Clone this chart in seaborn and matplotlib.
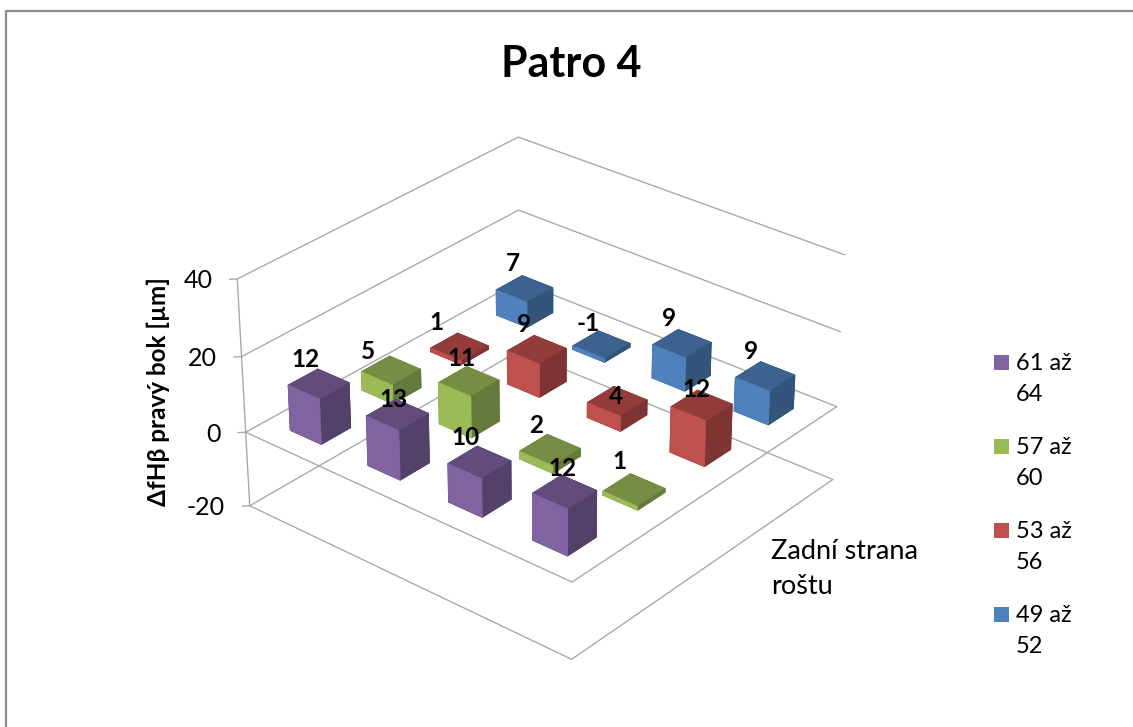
import numpy as np
import matplotlib
matplotlib.use("Agg")
import matplotlib.pyplot as plt
from matplotlib.colors import to_rgb
from matplotlib.lines import Line2D
from matplotlib.patches import Rectangle
from mpl_toolkits.mplot3d import proj3d
import seaborn as sns

# rows run from the front-left edge to the back of the grid
series = ['61 až\n64', '57 až\n60', '53 až\n56', '49 až\n52']
vals_61 = [12, 13, 10, 12]
vals_57 = [5, 11, 2, 1]
vals_53 = [1, 9, 4, 12]
vals_49 = [7, -1, 9, 9]
values = [vals_61, vals_57, vals_53, vals_49]
z_ticks = [-20, 0, 20, 40]
title = 'Patro 4'
z_label = 'ΔfHβ pravý bok [µm]'
row_label = 'Zadní strana\nroštu'

# label offsets from the bar top, in pixels
nudge_61 = [(-13, 24), (-4, 15), (-14, 25), (-2, 23)]
nudge_57 = [(-23, 19), (-7, 23), (-14, 24), (-15, 28)]
nudge_53 = [(-23, 24), (-13, 25), (-1, 5), (-5, 16)]
nudge_49 = [(-12, 25), (-13, 25), (-13, 25), (-14, 25)]
nudges = [nudge_61, nudge_57, nudge_53, nudge_49]

palette = sns.color_palette(['#8064A2', '#9BBB59', '#C0504D', '#4F81BD'])
grid_color = '#A6A6A6'
bar_w = 0.405
W, H = 1133, 727

sns.set_theme(style='white')
plt.rcParams['font.family'] = ['Lato', 'DejaVu Sans']

fig = plt.figure(figsize=(W / 100, H / 100), dpi=100, facecolor='white')
ax = fig.add_subplot(projection='3d', computed_zorder=False)
ax.set_xlim(0, 4)
ax.set_ylim(0, 4)
ax.set_zlim(-20, 40)
ax.view_init(29.68, -50.0)
ax.set_proj_type('persp', focal_length=0.9139)
ax.set_box_aspect((1.0038, 1, 0.6161))
ax.set_position([218.63 / W, 20.35 / H, 632.23 / W, 632.23 / H])
ax.set_axis_off()
M = ax.get_proj()


def grid_line(xs, ys, zs):
    ax.plot(xs, ys, zs, color=grid_color, lw=0.95, zorder=1)


# walls, floor and the plane at zero
for z in z_ticks:
    grid_line([0, 0, 4], [0, 4, 4], [z, z, z])
    grid_line([0, -0.05], [0, -0.05], [z, z])
    u, v, _ = proj3d.proj_transform(0, 0, z, M)
    ax.annotate(str(z), (u, v), xytext=(-25, -2), textcoords='offset pixels', ha='right', va='center',
                fontsize=18, color='black', annotation_clip=False, zorder=50)
for z in z_ticks[:2]:
    grid_line([0, 4, 4], [0, 0, 4], [z, z, z])
grid_line([0, 0], [0, 0], [-20, 40])

# back to front so nearer bars cover farther ones
cells = sorted(((c, r) for r in range(4) for c in range(4)), key=lambda cr: cr[0] - cr[1])
for i, (c, r) in enumerate(cells):
    base = np.array(to_rgb(palette[r]))
    top, side = base * 0.76, base * 0.65
    faces = [top, top, base, side, side, side]
    ax.bar3d(c + 0.5 - bar_w / 2, r + 0.5 - bar_w / 2, 0, bar_w, bar_w, values[r][c],
             color=faces, edgecolor=faces, linewidth=0.6, shade=False, zorder=2 + i)
for c, r in cells:
    u, v, _ = proj3d.proj_transform(c + 0.5, r + 0.5, values[r][c], M)
    ax.annotate(str(values[r][c]), (u, v), xytext=nudges[r][c], textcoords='offset pixels',
                ha='center', va='center', fontsize=17.5, fontweight='bold', color='black',
                annotation_clip=False, zorder=60)

fig.text(571 / W, 1 - 64 / H, title, ha='center', va='center', fontsize=31, fontweight='bold', color='black')
fig.text(158 / W, 1 - 392 / H, z_label, rotation=90, ha='center', va='center', fontsize=17.5,
         fontweight='bold', color='black')
fig.text(771 / W, 1 - 569 / H, row_label, ha='left', va='center', fontsize=19.5, color='black', linespacing=1.52)

# legend, swatch beside the first line of each wrapped label
for i, (name, col) in enumerate(zip(series, palette)):
    top_y = 355 + i * 84
    fig.add_artist(Rectangle((994 / W, 1 - (top_y + 15) / H), 15 / W, 15 / H, color=col,
                             transform=fig.transFigure, lw=0))
    fig.text(1016 / W, 1 - (top_y + 24) / H, name, ha='left', va='center', fontsize=17,
             color='black', linespacing=1.6)

# chart frame, cropped at right and bottom
fig.add_artist(Line2D([6 / W, 6 / W, 1], [0, 1 - 10.5 / H, 1 - 10.5 / H], color='#8C8C8C', lw=1.6))

fig.savefig('out.png', dpi=100)
